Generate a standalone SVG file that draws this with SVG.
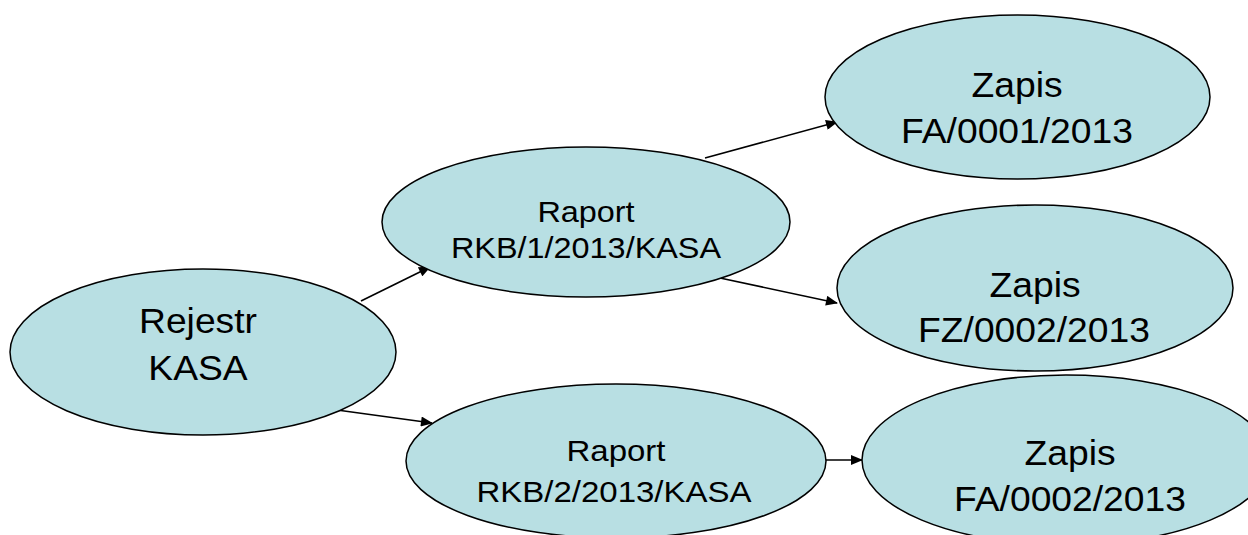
<svg xmlns="http://www.w3.org/2000/svg" width="1248" height="535" viewBox="0 0 1248 535">
<defs>
<style>
.node ellipse{fill:#b8dfe3;stroke:#000;stroke-width:1.5}
.node text{font-family:"Liberation Sans",Arial,sans-serif;fill:#000;text-anchor:middle}
.big{font-size:34.5px}
.mid{font-size:30px}
.edges line{stroke:#000;stroke-width:1.6;marker-end:url(#arr)}
</style>
<marker id="arr" viewBox="0 0 12 10" refX="11" refY="5" markerWidth="13" markerHeight="10" markerUnits="userSpaceOnUse" orient="auto">
<path d="M0,0 L12,5 L0,10 Z" fill="#000"/>
</marker>
</defs>
<rect width="1248" height="535" fill="#fff"/>
<g class="edges" id="connectors">
<line x1="361" y1="301" x2="430" y2="267"/>
<line x1="705" y1="158" x2="837" y2="122"/>
<line x1="720" y1="278" x2="837" y2="303"/>
<line x1="337" y1="410" x2="432" y2="423"/>
<line x1="826" y1="460" x2="862" y2="460"/>
</g>
<g class="node" id="rejestr">
<ellipse cx="203" cy="352" rx="193" ry="83"/>
<text class="big" transform="translate(198,333) scale(1.08,1)">Rejestr</text>
<text class="big" transform="translate(198,380) scale(1.08,1)">KASA</text>
</g>
<g class="node" id="raport1">
<ellipse cx="586" cy="222" rx="204" ry="75"/>
<text class="mid" transform="translate(586,222) scale(1.08,1)">Raport</text>
<text class="mid" transform="translate(586,258) scale(1.08,1)">RKB/1/2013/KASA</text>
</g>
<g class="node" id="raport2">
<ellipse cx="616" cy="461" rx="210" ry="77"/>
<text class="mid" transform="translate(616,461) scale(1.1,1)">Raport</text>
<text class="mid" transform="translate(614,502) scale(1.1,1)">RKB/2/2013/KASA</text>
</g>
<g class="node" id="zapis1">
<ellipse cx="1017.5" cy="97" rx="192.5" ry="82"/>
<text class="big" transform="translate(1017,97) scale(1.08,1)">Zapis</text>
<text class="big" transform="translate(1017,143) scale(1.08,1)">FA/0001/2013</text>
</g>
<g class="node" id="zapis2">
<ellipse cx="1035" cy="288" rx="198" ry="83"/>
<text class="big" transform="translate(1035,297) scale(1.08,1)">Zapis</text>
<text class="big" transform="translate(1034,342) scale(1.08,1)">FZ/0002/2013</text>
</g>
<g class="node" id="zapis3">
<ellipse cx="1066" cy="460" rx="204" ry="85"/>
<text class="big" transform="translate(1070,465) scale(1.08,1)">Zapis</text>
<text class="big" transform="translate(1070,511) scale(1.08,1)">FA/0002/2013</text>
</g>
</svg>
